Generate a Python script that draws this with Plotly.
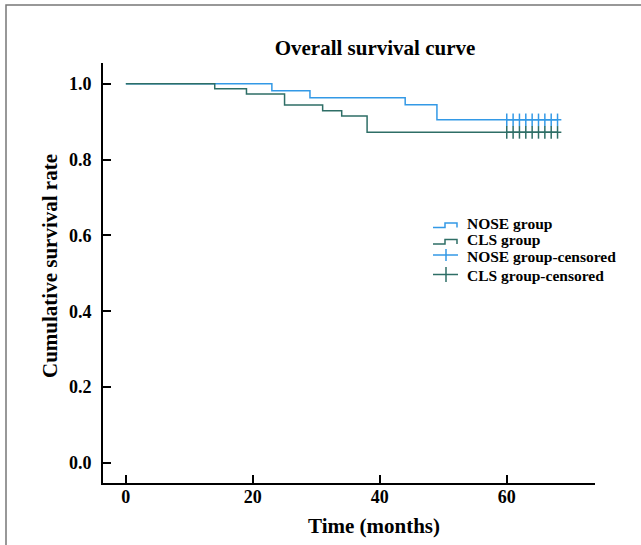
import plotly.graph_objects as go

# Kaplan-Meier step data (months, survival)
nose_time = [0, 23, 29, 44, 49, 68.6]
nose_surv = [1.0, 0.982, 0.963, 0.945, 0.905, 0.905]
cls_time = [0, 14, 19, 25, 31, 34, 38, 68.6]
cls_surv = [1.0, 0.987, 0.973, 0.944, 0.929, 0.915, 0.872, 0.872]

censor_time = [60, 61, 62, 63, 64, 65, 66, 67, 68]
nose_censor_surv = [0.905] * len(censor_time)
cls_censor_surv = [0.872] * len(censor_time)

x_ticks = [0, 20, 40, 60]
y_ticks = [0.0, 0.2, 0.4, 0.6, 0.8, 1.0]

legend_labels = ["NOSE group", "CLS group", "NOSE group-censored", "CLS group-censored"]

NOSE_COLOR = "#3399e6"
CLS_COLOR = "#2e6e66"
FONT = "Liberation Serif"

# plot area in pixels
L, R, T, B = 103, 595, 63, 483
W, H = 641, 545


def px(x):
    return (x - L) / (R - L)


def py(y):
    return (B - y) / (B - T)


fig = go.Figure()
fig.add_trace(go.Scatter(x=nose_time, y=nose_surv, mode="lines", line=dict(shape="hv", color=NOSE_COLOR, width=1.5),
                         name=legend_labels[0], showlegend=False))
fig.add_trace(go.Scatter(x=cls_time, y=cls_surv, mode="lines", line=dict(shape="hv", color=CLS_COLOR, width=1.5),
                         name=legend_labels[1], showlegend=False))
fig.add_trace(go.Scatter(x=censor_time, y=nose_censor_surv, mode="lines+markers",
                         line=dict(color=NOSE_COLOR, width=1.5),
                         marker=dict(symbol="line-ns", size=9, line=dict(color=NOSE_COLOR, width=1.5)),
                         name=legend_labels[2], showlegend=False))
fig.add_trace(go.Scatter(x=censor_time, y=cls_censor_surv, mode="lines+markers",
                         line=dict(color=CLS_COLOR, width=1.5),
                         marker=dict(symbol="line-ns", size=9, line=dict(color=CLS_COLOR, width=1.5)),
                         name=legend_labels[3], showlegend=False))

shapes = [dict(type="rect", xref="paper", yref="paper", x0=px(6), x1=px(700), y0=py(620), y1=py(5),
               line=dict(color="#777777", width=1.5), fillcolor="rgba(0,0,0,0)", layer="below")]


def step_icon(y_low, y_high, color):
    pts = [(433, y_low), (445, y_low), (445, y_high), (457, y_high), (457, y_low)]
    path = "M " + " L ".join(f"{px(a):.5f},{py(b):.5f}" for a, b in pts)
    return dict(type="path", xref="paper", yref="paper", path=path, line=dict(color=color, width=1.5))


def cross_icon(y, half, color):
    return [dict(type="line", xref="paper", yref="paper", x0=px(433), x1=px(458), y0=py(y), y1=py(y),
                 line=dict(color=color, width=1.5)),
            dict(type="line", xref="paper", yref="paper", x0=px(446), x1=px(446), y0=py(y - half), y1=py(y + half),
                 line=dict(color=color, width=1.5))]


shapes.append(step_icon(227.5, 223, NOSE_COLOR))
shapes.append(step_icon(244, 239.5, CLS_COLOR))
shapes += cross_icon(255, 6, NOSE_COLOR)
shapes += cross_icon(274.5, 7.5, CLS_COLOR)

legend_y = [223, 239.5, 256, 275]
annotations = []
for lab, yy in zip(legend_labels, legend_y):
    annotations.append(dict(text=f"<b>{lab}</b>", xref="paper", yref="paper", x=px(465), y=py(yy),
                            xanchor="left", yanchor="middle", showarrow=False,
                            font=dict(size=15.5, family=FONT, color="black")))
annotations.append(dict(text="<b>Time (months)</b>", xref="paper", yref="paper", x=px(374), y=py(526),
                        xanchor="center", yanchor="middle", showarrow=False,
                        font=dict(size=21, family=FONT, color="black")))
annotations.append(dict(text="<b>Cumulative survival rate</b>", xref="paper", yref="paper", x=px(50), y=py(266),
                        xanchor="center", yanchor="middle", showarrow=False, textangle=-90,
                        font=dict(size=21, family=FONT, color="black")))

fig.update_layout(
    width=W, height=H,
    margin=dict(l=L, r=W - R, t=T, b=H - B),
    paper_bgcolor="white", plot_bgcolor="white",
    font=dict(family=FONT, color="black"),
    title=dict(text="<b>Overall survival curve</b>", x=375 / W, xanchor="center",
               y=1 - 48 / H, yanchor="middle", font=dict(size=21, family=FONT)),
    showlegend=False,
    shapes=shapes,
    annotations=annotations,
)

fig.update_xaxes(range=[-3.6, 73.9], tickvals=x_ticks, ticks="inside", ticklen=8, tickwidth=1.5, tickcolor="black",
                 showline=True, linecolor="black", linewidth=2, showgrid=False, zeroline=False, automargin=False,
                 tickfont=dict(size=18, family=FONT, weight="bold"), ticklabelstandoff=-4)
fig.update_yaxes(range=[-0.053, 1.055], tickvals=y_ticks, tickformat=".1f", ticks="inside", ticklen=8, tickwidth=1.5,
                 tickcolor="black", showline=True, linecolor="black", linewidth=2, showgrid=False, zeroline=False,
                 automargin=False, tickfont=dict(size=18, family=FONT, weight="bold"), ticklabelstandoff=6)

fig.write_html("out.html", config={"displayModeBar": False},
               post_script="document.body.style.margin='0';")
